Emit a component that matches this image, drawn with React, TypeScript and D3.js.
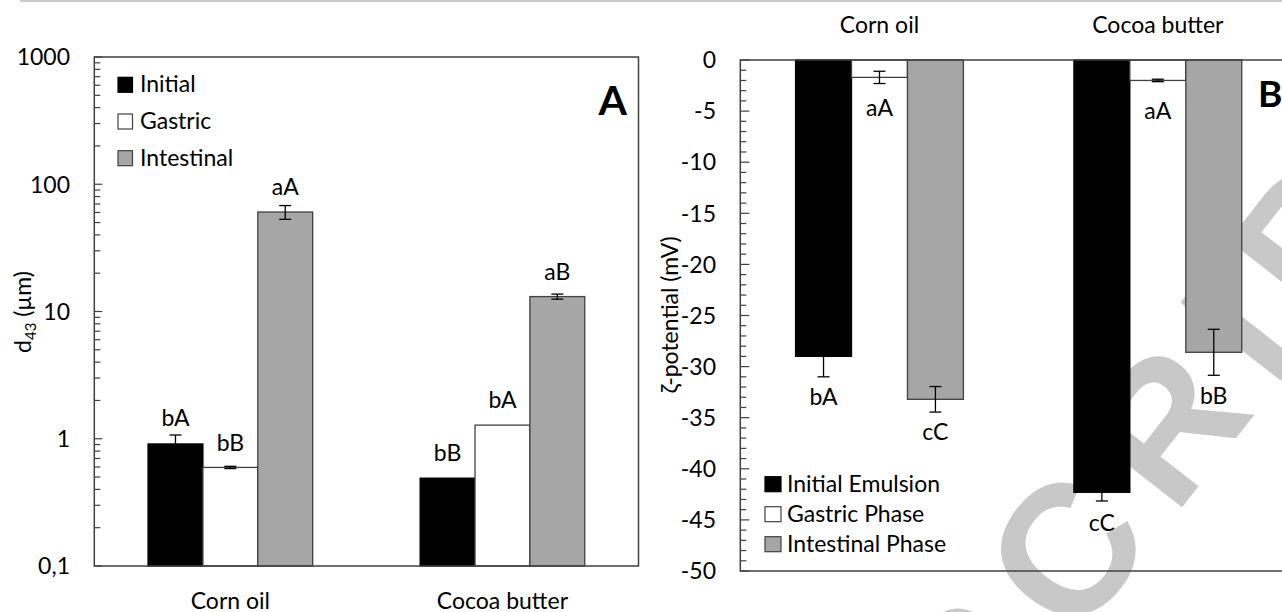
import React from 'react';
import * as d3 from 'd3';

const categories = ['Corn oil', 'Cocoa butter'];
const sizeSeries = ['Initial', 'Gastric', 'Intestinal'];
const zetaSeries = ['Initial Emulsion', 'Gastric Phase', 'Intestinal Phase'];

// panel A, d43 (µm), log axis
const d43Initial = [0.91, 0.49];
const d43Gastric = [0.595, 1.28];
const d43Intestinal = [60.5, 13.1];
const d43InitialErr = [0.16, 0];
const d43GastricErr = [0.012, 0];
const d43IntestinalErr = [7.5, 0.6];
const d43InitialLetters = ['bA', 'bB'];
const d43GastricLetters = ['bB', 'bA'];
const d43IntestinalLetters = ['aA', 'aB'];
const d43Ticks = [0.1, 1, 10, 100, 1000];
const d43TickLabels = ['0,1', '1', '10', '100', '1000'];

// panel B, zeta-potential (mV)
const zetaInitial = [-29.0, -42.3];
const zetaGastric = [-1.7, -2.0];
const zetaIntestinal = [-33.2, -28.6];
const zetaInitialErr = [2.0, 0.85];
const zetaGastricErr = [0.6, 0.12];
const zetaIntestinalErr = [1.25, 2.25];
const zetaInitialLetters = ['bA', 'cC'];
const zetaGastricLetters = ['aA', 'aA'];
const zetaIntestinalLetters = ['cC', 'bB'];
const zetaTicks = [0, -5, -10, -15, -20, -25, -30, -35, -40, -45, -50];

const FILLS = ['#000000', '#ffffff', '#a6a6a6'];
const EDGE = '#404040';
const FONT = 'Lato, "Open Sans", sans-serif';
const FS = 23;

type Bar = { cat: string; series: string; value: number; err: number; letter: string };

function buildBars(series: string[], values: number[][], errs: number[][], letters: string[][]): Bar[] {
  const out: Bar[] = [];
  categories.forEach((cat, i) => {
    series.forEach((s, j) => {
      out.push({ cat, series: s, value: values[j][i], err: errs[j][i], letter: letters[j][i] });
    });
  });
  return out;
}

const ErrorBar = ({ x, y1, y2 }: { x: number; y1: number; y2: number }) => (
  <g stroke="#000" strokeWidth={1.3}>
    <line x1={x} x2={x} y1={y1} y2={y2} />
    <line x1={x - 6} x2={x + 6} y1={y1} y2={y1} />
    <line x1={x - 6} x2={x + 6} y1={y2} y2={y2} />
  </g>
);

const SizePanel = () => {
  const left = 94.3, right = 638.5, top = 57, bottom = 566;
  const x = d3.scaleBand().domain(categories).range([left, right]);
  const groupW = x.bandwidth() * 0.605;
  const xs = d3.scaleBand().domain(sizeSeries).range([0, groupW]);
  const y = d3.scaleLog().domain([0.1, 1000]).range([bottom, top]);
  const bars = buildBars(
    sizeSeries,
    [d43Initial, d43Gastric, d43Intestinal],
    [d43InitialErr, d43GastricErr, d43IntestinalErr],
    [d43InitialLetters, d43GastricLetters, d43IntestinalLetters]
  );
  const bx = (b: Bar) => (x(b.cat) as number) + (x.bandwidth() - groupW) / 2 + (xs(b.series) as number);

  return (
    <g fontFamily={FONT} fontSize={FS}>
      {bars.map((b, i) => {
        const j = sizeSeries.indexOf(b.series);
        return (
          <rect key={i} x={bx(b)} y={y(b.value)} width={xs.bandwidth()} height={bottom - y(b.value)}
            fill={FILLS[j]} stroke={j === 0 ? '#000' : EDGE} strokeWidth={1.3} />
        );
      })}
      {bars.filter((b) => b.err > 0).map((b, i) => (
        <ErrorBar key={i} x={bx(b) + xs.bandwidth() / 2} y1={y(b.value + b.err)} y2={y(b.value - b.err)} />
      ))}
      {bars.map((b, i) => {
        const ly = Math.min(y(b.value) - 25, y(b.value + b.err) - 17);
        return (
          <text key={i} x={bx(b) + xs.bandwidth() / 2} y={ly} dy="0.36em" textAnchor="middle">{b.letter}</text>
        );
      })}
      <rect x={left} y={top} width={right - left} height={bottom - top} fill="none" stroke={EDGE} strokeWidth={1.5} />
      {y.ticks().map((t, i) => {
        const major = Math.abs(Math.log10(t) - Math.round(Math.log10(t))) < 1e-9;
        return <line key={i} x1={left} x2={left + (major ? 8 : 6)} y1={y(t)} y2={y(t)} stroke={EDGE} strokeWidth={1.2} />;
      })}
      {d43Ticks.map((t, i) => (
        <text key={i} x={70} y={y(t)} dy="0.36em" textAnchor="end">{d43TickLabels[i]}</text>
      ))}
      {categories.map((c) => (
        <text key={c} x={(x(c) as number) + x.bandwidth() / 2} y={608.5} textAnchor="middle">{c}</text>
      ))}
      <text transform="translate(31,312) rotate(-90)" textAnchor="middle">
        d<tspan fontSize={15} dy={5}>43</tspan><tspan dy={-5}> (µm)</tspan>
      </text>
      {sizeSeries.map((s, j) => (
        <g key={s} transform={`translate(118,${92.3 + j * 36.7})`}>
          <rect x={0} y={-15} width={14.5} height={15} fill={FILLS[j]} stroke={j === 0 ? '#000' : EDGE} strokeWidth={1.2} />
          <text x={22} y={0}>{s}</text>
        </g>
      ))}
      <text x={627} y={115} textAnchor="end" fontWeight="bold" fontSize={41}>A</text>
    </g>
  );
};

const ZetaPanel = () => {
  const left = 740.3, right = 1297, top = 60, bottom = 571;
  const x = d3.scaleBand().domain(categories).range([left, right]);
  const groupW = x.bandwidth() * 0.603;
  const xs = d3.scaleBand().domain(zetaSeries).range([0, groupW]);
  const y = d3.scaleLinear().domain([-50, 0]).range([bottom, top]);
  const bars = buildBars(
    zetaSeries,
    [zetaInitial, zetaGastric, zetaIntestinal],
    [zetaInitialErr, zetaGastricErr, zetaIntestinalErr],
    [zetaInitialLetters, zetaGastricLetters, zetaIntestinalLetters]
  );
  const bx = (b: Bar) => (x(b.cat) as number) + (x.bandwidth() - groupW) / 2 + (xs(b.series) as number);

  return (
    <g fontFamily={FONT} fontSize={FS}>
      {bars.map((b, i) => {
        const j = zetaSeries.indexOf(b.series);
        return (
          <rect key={i} x={bx(b)} y={y(0)} width={xs.bandwidth()} height={y(b.value) - y(0)}
            fill={FILLS[j]} stroke={j === 0 ? '#000' : EDGE} strokeWidth={1.3} />
        );
      })}
      {bars.map((b, i) => (
        <ErrorBar key={i} x={bx(b) + xs.bandwidth() / 2} y1={y(b.value + b.err)} y2={y(b.value - b.err)} />
      ))}
      {bars.map((b, i) => {
        const ly = Math.max(y(b.value) + 30, y(b.value - b.err) + 20);
        return (
          <text key={i} x={bx(b) + xs.bandwidth() / 2} y={ly} dy="0.36em" textAnchor="middle">{b.letter}</text>
        );
      })}
      <rect x={left} y={top} width={right - left} height={bottom - top} fill="none" stroke={EDGE} strokeWidth={1.5} />
      {d3.range(-50, 1, 1).map((t) => (
        <line key={t} x1={left} x2={left + (t % 5 === 0 ? 9 : 6)} y1={y(t)} y2={y(t)} stroke={EDGE} strokeWidth={1.2} />
      ))}
      {zetaTicks.map((t) => (
        <text key={t} x={716} y={y(t)} dy="0.36em" textAnchor="end">{t}</text>
      ))}
      {categories.map((c) => (
        <text key={c} x={(x(c) as number) + x.bandwidth() / 2} y={33} textAnchor="middle">{c}</text>
      ))}
      <text transform="translate(678,315) rotate(-90)" textAnchor="middle">ζ-potential (mV)</text>
      {zetaSeries.map((s, j) => (
        <g key={s} transform={`translate(765,${491.7 + j * 30})`}>
          <rect x={0} y={-15} width={16} height={15} fill={FILLS[j]} stroke={j === 0 ? '#000' : EDGE} strokeWidth={1.2} />
          <text x={22} y={0}>{s}</text>
        </g>
      ))}
      <text x={1258} y={107} fontWeight="bold" fontSize={37}>B</text>
    </g>
  );
};

export default function App() {
  return (
    <svg width={1282} height={612} style={{ position: 'absolute', left: 0, top: 0, background: '#fff' }}>
      <line x1={20} x2={1282} y1={1} y2={1} stroke="#c8c8c8" strokeWidth={2} />
      {/* manuscript watermark, sits behind the bars */}
      <text
        transform="translate(983,762) rotate(-52)"
        fontFamily='"Liberation Sans", Arial, sans-serif'
        fontWeight="bold"
        fontSize={185}
        letterSpacing={27}
        fill="#c8c8c8"
      >
        SCRIPT
      </text>
      <SizePanel />
      <ZetaPanel />
    </svg>
  );
}
